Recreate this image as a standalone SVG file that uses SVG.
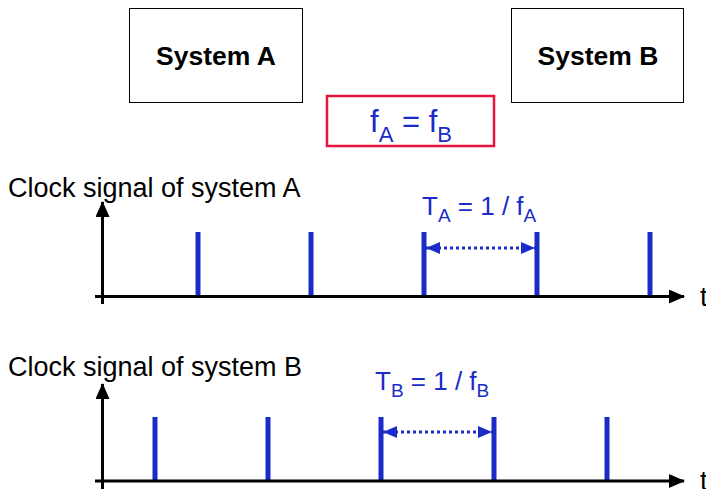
<svg xmlns="http://www.w3.org/2000/svg" width="706" height="489" viewBox="0 0 706 489">
<style>
.box{fill:#fff;stroke:#000;stroke-width:1}
.bt{font-family:"Liberation Sans",Arial,sans-serif;font-weight:bold;font-size:26.5px;fill:#000;text-anchor:middle}
.lbl{font-family:"Liberation Sans",Arial,sans-serif;font-size:27px;fill:#000}
.bl{font-family:"Liberation Sans",Arial,sans-serif;font-size:26px;fill:#1a2bc8}
.axis{stroke:#000;stroke-width:3;fill:none}
.pulse{stroke:#1a2bc8;stroke-width:5}
.dot{stroke:#1a2bc8;stroke-width:3;stroke-dasharray:3 3;fill:none}
</style>
<defs>
<marker id="ah" viewBox="0 0 16 14" refX="15" refY="7" markerWidth="16" markerHeight="14" markerUnits="userSpaceOnUse" orient="auto">
<path d="M0,0 L16,7 L0,14 Z" fill="#000"/>
</marker>
<marker id="bh" viewBox="0 0 14 12" refX="14" refY="6" markerWidth="14" markerHeight="12" markerUnits="userSpaceOnUse" orient="auto-start-reverse">
<path d="M0,0 L14,6 L0,12 Z" fill="#1a2bc8"/>
</marker>
</defs>
<g id="systemA">
<rect class="box" x="129.5" y="8.5" width="173" height="94"/>
<text class="bt" x="216" y="65">System A</text>
</g>
<g id="systemB">
<rect class="box" x="511.5" y="8.5" width="172" height="94"/>
<text class="bt" x="598" y="65">System B</text>
</g>
<g id="equal">
<rect x="327" y="96" width="167" height="50" fill="#fff" stroke="#e4143c" stroke-width="2.5"/>
<text class="bl" x="411" y="132" text-anchor="middle" style="font-size:31px">f<tspan dy="10" style="font-size:22px">A</tspan><tspan dy="-10"> = f</tspan><tspan dy="10" style="font-size:22px">B</tspan></text>
</g>
<g id="chartA">
<text class="lbl" x="8" y="197">Clock signal of system A</text>
<text class="lbl" x="700" y="306">t</text>
<text class="bl" x="422" y="215">T<tspan dy="7" style="font-size:19px">A</tspan><tspan dy="-7"> = 1 / f</tspan><tspan dy="7" style="font-size:19px">A</tspan></text>
<line class="pulse" x1="198" y1="232" x2="198" y2="296"/>
<line class="pulse" x1="311" y1="232" x2="311" y2="296"/>
<line class="pulse" x1="424" y1="232" x2="424" y2="296"/>
<line class="pulse" x1="537" y1="232" x2="537" y2="296"/>
<line class="pulse" x1="650" y1="232" x2="650" y2="296"/>
</g>
<g id="chartB">
<text class="lbl" x="8" y="376">Clock signal of system B</text>
<text class="lbl" x="700" y="490">t</text>
<text class="bl" x="375" y="390">T<tspan dy="7" style="font-size:19px">B</tspan><tspan dy="-7"> = 1 / f</tspan><tspan dy="7" style="font-size:19px">B</tspan></text>
<line class="pulse" x1="155" y1="417" x2="155" y2="481"/>
<line class="pulse" x1="268" y1="417" x2="268" y2="481"/>
<line class="pulse" x1="381" y1="417" x2="381" y2="481"/>
<line class="pulse" x1="494" y1="417" x2="494" y2="481"/>
<line class="pulse" x1="607" y1="417" x2="607" y2="481"/>
</g>
<g id="connectors">
<line class="axis" x1="95" y1="296.5" x2="684" y2="296.5" marker-end="url(#ah)"/>
<line class="axis" x1="102.5" y1="304" x2="102.5" y2="202" marker-end="url(#ah)"/>
<line class="axis" x1="95" y1="481" x2="684" y2="481" marker-end="url(#ah)"/>
<line class="axis" x1="102.5" y1="489" x2="102.5" y2="384" marker-end="url(#ah)"/>
<line class="dot" x1="426" y1="248" x2="535" y2="248" marker-start="url(#bh)" marker-end="url(#bh)"/>
<line class="dot" x1="383" y1="432" x2="492" y2="432" marker-start="url(#bh)" marker-end="url(#bh)"/>
</g>
</svg>
